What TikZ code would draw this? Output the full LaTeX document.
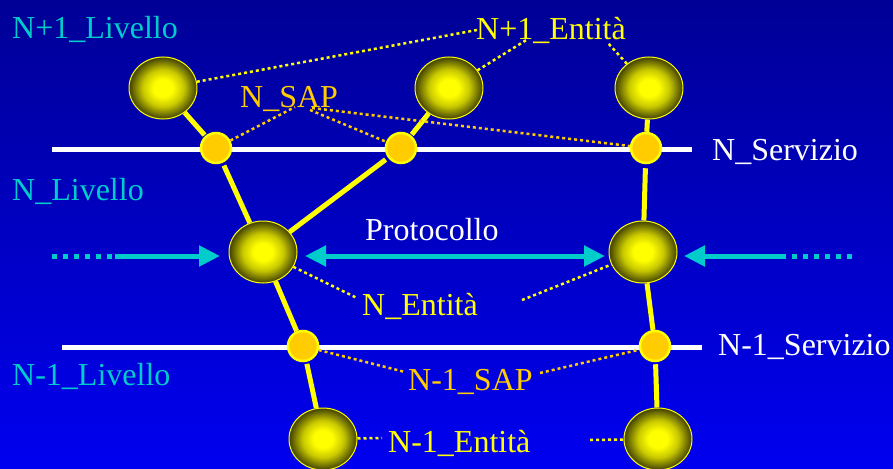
\documentclass[tikz,border=0pt]{standalone}
\usepackage{fontspec}
\setmainfont{Liberation Serif}
\usetikzlibrary{shapes.geometric,arrows.meta}
\definecolor{bgtop}{RGB}{0,0,150}
\definecolor{bgbot}{RGB}{0,0,240}
\definecolor{cy}{RGB}{0,204,204}
\definecolor{ye}{RGB}{255,255,0}
\definecolor{sapc}{RGB}{255,204,0}
\definecolor{olv}{RGB}{64,64,0}
\definecolor{ymid}{RGB}{200,200,0}
\pgfdeclareradialshading{sphere}{\pgfpoint{0bp}{0bp}}{%
  color(0bp)=(ye); color(7bp)=(ye); color(15bp)=(ymid); color(25bp)=(olv); color(50bp)=(olv)}
\begin{document}
\begin{tikzpicture}[x=1pt,y=-1pt,
  entity/.style={ellipse, minimum width=68pt, minimum height=62pt, inner sep=0pt,
    draw=ye, line width=1pt, shading=sphere},
  sapn/.style={circle, minimum size=30pt, inner sep=0pt, fill=sapc, draw=ye, line width=2.5pt},
  link/.style={draw=ye, line width=5pt},
  dots/.style={draw=ye, line width=2.5pt, dash pattern=on 3pt off 3pt},
  sapdots/.style={dots, draw=sapc},
  txt/.style={font=\fontsize{32}{38}\selectfont, inner sep=0pt, anchor=base west},
  serv/.style={draw=white, line width=5pt},
  arrline/.style={draw=cy, line width=5pt},
  arrdots/.style={draw=cy, line width=5pt, dash pattern=on 5pt off 6pt},
  tip/.style={-{Triangle[length=21pt,width=20pt]}},
  tips/.style={{Triangle[length=21pt,width=20pt]}-{Triangle[length=21pt,width=20pt]}}
]
% background
\shade[top color=bgtop, bottom color=bgbot] (0,0) rectangle (893,468);
\useasboundingbox (0,0) rectangle (893,468);

% service lines
\coordinate (sv1a) at (52,149);
\coordinate (sv1b) at (692,149);
\coordinate (sv2a) at (62,347);
\coordinate (sv2b) at (702,347);
\draw[serv] (sv1a) -- (sv1b);
\draw[serv] (sv2a) -- (sv2b);

% entities
\node[entity] (A) at (163,88) {};
\node[entity] (B) at (449,88) {};
\node[entity] (C) at (649,88) {};
\node[entity] (D) at (263,252) {};
\node[entity] (E) at (643,252) {};
\node[entity] (F) at (323,439) {};
\node[entity] (G) at (658,439) {};

% SAPs
\node[sapn] (S1) at (216,148) {};
\node[sapn] (S2) at (401,148) {};
\node[sapn] (S3) at (646,148) {};
\node[sapn] (S4) at (303,346) {};
\node[sapn] (S5) at (655,346) {};

% solid links
\draw[link, shorten >=1pt] (A) -- (S1);
\draw[link, shorten <=3pt] (S1) -- (D);
\draw[link, shorten <=1pt] (S2) -- (B);
\draw[link, shorten <=3pt] (S2) -- (D);
\draw[link] (C) -- (S3);
\draw[link, shorten <=4pt] (S3) -- (E);
\draw[link] (D) -- (S4);
\draw[link, shorten <=2pt] (S4) -- (F);
\draw[link] (E) -- (S5);
\draw[link, shorten <=2pt] (S5) -- (G);

% labels
\node[txt, text=cy] (l1) at (12,39) {N+1\_Livello};
\node[txt, text=cy] (l2) at (12,200) {N\_Livello};
\node[txt, text=cy] (l3) at (12,385) {N-1\_Livello};
\node[txt, text=white] (sv1) at (712,160) {N\_Servizio};
\node[txt, text=white] (sv2) at (718,355) {N-1\_Servizio};
\node[txt, text=ye] (e1) at (476,40) {N+1\_Entità};
\node[txt, text=sapc] (sap1) at (240,107) {N\_SAP};
\node[txt, text=white] (prot) at (365,240) {Protocollo};
\node[txt, text=ye] (ne) at (362,315) {N\_Entità};
\node[txt, text=sapc] (sap2) at (408,390) {N-1\_SAP};
\node[txt, text=ye] (n1e) at (388,452) {N-1\_Entità};

% dotted label connectors
\coordinate (e1a) at (477,30);
\coordinate (e1b) at (528,39);
\coordinate (e1c) at (607,42);
\draw[dots] (A) -- (e1a);
\draw[dots] (B) -- (e1b);
\draw[dots] (C) -- (e1c);

\coordinate (spa) at (295,107);
\coordinate (spb) at (310,110);
\coordinate (spc) at (312,108);
\draw[sapdots] (S1) -- (spa);
\draw[sapdots] (spb) -- (S2);
\draw[sapdots] (spc) -- (S3);

\coordinate (nea) at (357,298);
\coordinate (neb) at (522,300);
\draw[dots] (D) -- (nea);
\draw[dots] (neb) -- (E);

\coordinate (s2a) at (405,372);
\coordinate (s2b) at (540,373);
\draw[sapdots] (S4) -- (s2a);
\draw[sapdots] (s2b) -- (S5);

\coordinate (n1a) at (382,438);
\coordinate (n1b) at (590,440);
\draw[dots] (F) -- (n1a);
\draw[dots] (n1b) -- (G);

% protocol arrows
\coordinate (la0) at (52,256);
\coordinate (la1) at (115,256);
\coordinate (la2) at (220,256);
\draw[arrdots] (la0) -- (la1);
\draw[arrline, tip] (la1) -- (la2);

\coordinate (pa) at (305,256);
\coordinate (pb) at (605,256);
\draw[arrline, tips] (pa) -- (pb);

\coordinate (ra0) at (852,256);
\coordinate (ra1) at (783,256);
\coordinate (ra2) at (684,256);
\draw[arrdots] (ra0) -- (ra1);
\draw[arrline, tip] (ra1) -- (ra2);
\end{tikzpicture}
\end{document}
